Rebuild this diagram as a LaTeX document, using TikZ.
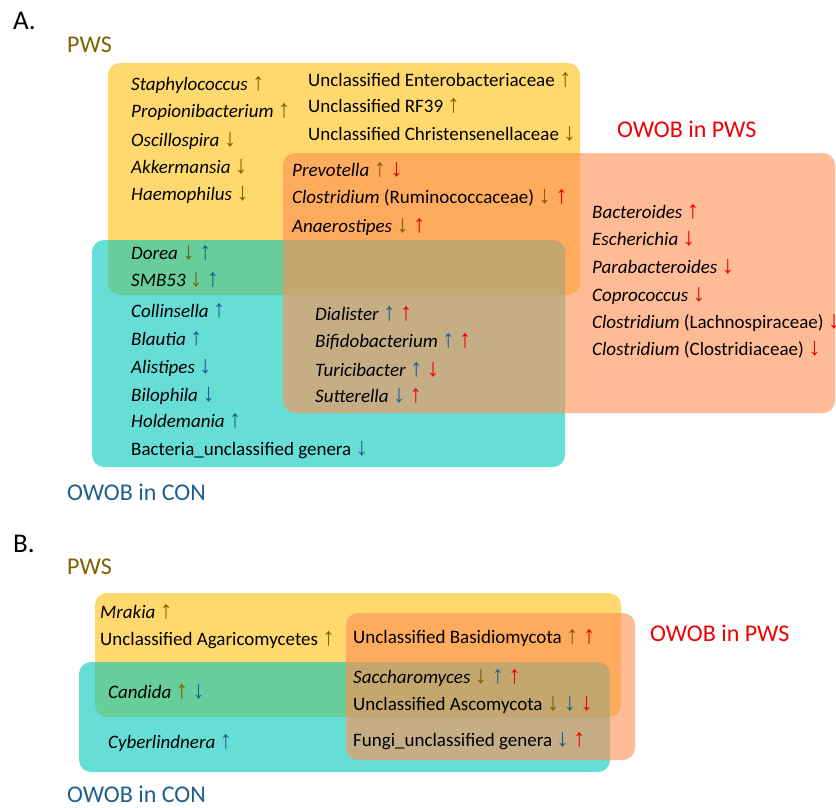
\documentclass[tikz,border=0pt]{standalone}
\usepackage{fontspec}
\setmainfont{Carlito}
\newfontfamily\arrfont{Liberation Sans}
\definecolor{brn}{HTML}{806000}
\definecolor{blu}{HTML}{1F5F8F}
\definecolor{rd}{HTML}{F00000}
\definecolor{yel}{HTML}{FFD96E}
\definecolor{cya}{RGB}{0,198,185}
\definecolor{sal}{RGB}{255,144,85}
\newcommand\arU[1]{{\arrfont\fontsize{25}{25}\selectfont\color{#1}↑}}
\newcommand\arD[1]{{\arrfont\fontsize{25}{25}\selectfont\color{#1}↓}}
\tikzset{
  lbl/.style={anchor=base west, inner sep=0pt, font=\fontsize{19}{22}\selectfont},
  ttl/.style={anchor=base west, inner sep=0pt, font=\fontsize{24}{28}\selectfont},
  hdr/.style={anchor=base west, inner sep=0pt, font=\fontsize{27}{30}\selectfont},
  ybox/.style={fill=yel, rounded corners=12pt},
  cbox/.style={fill=cya, fill opacity=0.6, rounded corners=12pt},
  sbox/.style={fill=sal, fill opacity=0.62, rounded corners=12pt},
}
\begin{document}
\begin{tikzpicture}[x=1pt,y=-1pt]
\useasboundingbox (0,0) rectangle (836,807);
% ---------- Panel A ----------
\fill[ybox] (108,63) rectangle (580,295);
\fill[cbox] (92,240) rectangle (565,467);
\fill[sbox] (283,153) rectangle (835,413);
\node[hdr] (A) at (13,29) {A.};
\node[ttl, text=brn] (apws) at (67,52) {PWS};
\node[ttl, text=rd] (aowobp) at (617,137) {OWOB in PWS};
\node[ttl, text=blu] (aowobc) at (67,500) {OWOB in CON};
% yellow only
\node[lbl] (a1) at (131,90) {\textit{Staphylococcus} \arU{brn}};
\node[lbl] (a2) at (131,117) {\textit{Propionibacterium} \arU{brn}};
\node[lbl] (a3) at (131,146) {\textit{Oscillospira} \arD{brn}};
\node[lbl] (a4) at (131,173) {\textit{Akkermansia} \arD{brn}};
\node[lbl] (a5) at (131,200) {\textit{Haemophilus} \arD{brn}};
\node[lbl] (a6) at (308,86) {Unclassified Enterobacteriaceae \arU{brn}};
\node[lbl] (a7) at (308,112) {Unclassified RF39 \arU{brn}};
\node[lbl] (a8) at (308,140) {Unclassified Christensenellaceae \arD{brn}};
% yellow + salmon
\node[lbl] (a9) at (292,176) {\textit{Prevotella} \arU{brn} \arD{rd}};
\node[lbl] (a10) at (292,203) {\textit{Clostridium} (Ruminococcaceae) \arD{brn} \arU{rd}};
\node[lbl] (a11) at (292,232) {\textit{Anaerostipes} \arD{brn} \arU{rd}};
% yellow + cyan
\node[lbl] (a12) at (131,259) {\textit{Dorea} \arD{brn} \arU{blu}};
\node[lbl] (a13) at (131,286) {\textit{SMB53} \arD{brn} \arU{blu}};
% cyan only
\node[lbl] (a14) at (131,317) {\textit{Collinsella} \arU{blu}};
\node[lbl] (a15) at (131,345) {\textit{Blautia} \arU{blu}};
\node[lbl] (a16) at (131,373) {\textit{Alistipes} \arD{blu}};
\node[lbl] (a17) at (131,401) {\textit{Bilophila} \arD{blu}};
\node[lbl] (a18) at (131,427) {\textit{Holdemania} \arU{blu}};
\node[lbl] (a19) at (131,455) {Bacteria\_unclassified genera \arD{blu}};
% cyan + salmon
\node[lbl] (a20) at (315,320) {\textit{Dialister} \arU{blu} \arU{rd}};
\node[lbl] (a21) at (315,347) {\textit{Bifidobacterium} \arU{blu} \arU{rd}};
\node[lbl] (a22) at (315,376) {\textit{Turicibacter} \arU{blu} \arD{rd}};
\node[lbl] (a23) at (315,402) {\textit{Sutterella} \arD{blu} \arU{rd}};
% salmon only
\node[lbl] (a24) at (592,218) {\textit{Bacteroides} \arU{rd}};
\node[lbl] (a25) at (592,245) {\textit{Escherichia} \arD{rd}};
\node[lbl] (a26) at (592,273) {\textit{Parabacteroides} \arD{rd}};
\node[lbl] (a27) at (592,301) {\textit{Coprococcus} \arD{rd}};
\node[lbl] (a28) at (592,328) {\textit{Clostridium} (Lachnospiraceae) \arD{rd}};
\node[lbl] (a29) at (592,355) {\textit{Clostridium} (Clostridiaceae) \arD{rd}};
% ---------- Panel B ----------
\fill[ybox] (95,593) rectangle (621,717);
\fill[cbox] (79,662) rectangle (610,772);
\fill[sbox] (346,613) rectangle (635,760);
\node[hdr] (B) at (13,552) {B.};
\node[ttl, text=brn] (bpws) at (67,574) {PWS};
\node[ttl, text=rd] (bowobp) at (650,641) {OWOB in PWS};
\node[ttl, text=blu] (bowobc) at (67,802) {OWOB in CON};
\node[lbl] (b1) at (100,618) {\textit{Mrakia} \arU{brn}};
\node[lbl] (b2) at (100,645) {Unclassified Agaricomycetes \arU{brn}};
\node[lbl] (b3) at (353,643) {Unclassified Basidiomycota \arU{brn} \arU{rd}};
\node[lbl] (b4) at (108,698) {\textit{Candida} \arU{brn} \arD{blu}};
\node[lbl] (b5) at (353,683) {\textit{Saccharomyces} \arD{brn} \arU{blu} \arU{rd}};
\node[lbl] (b6) at (353,710) {Unclassified Ascomycota \arD{brn} \arD{blu} \arD{rd}};
\node[lbl] (b7) at (108,748) {\textit{Cyberlindnera} \arU{blu}};
\node[lbl] (b8) at (353,746) {Fungi\_unclassified genera \arD{blu} \arU{rd}};
\end{tikzpicture}
\end{document}
